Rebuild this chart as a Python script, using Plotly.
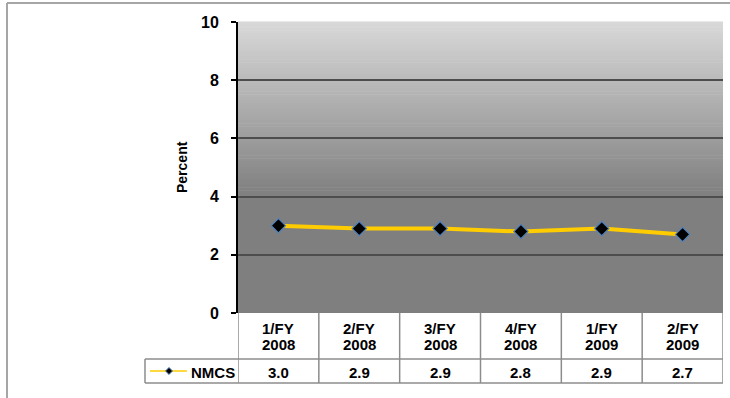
import plotly.graph_objects as go

# Quarterly NMCS rate
quarter_labels = ["1/FY", "2/FY", "3/FY", "4/FY", "1/FY", "2/FY"]
fiscal_years = ["2008", "2008", "2008", "2008", "2009", "2009"]
nmcs = [3.0, 2.9, 2.9, 2.8, 2.9, 2.7]
series_name = "NMCS"
y_ticks = [0, 2, 4, 6, 8, 10]

W, H = 730, 398
L, R, T, B = 238, 7, 22, 85
PW, PH = W - L - R, H - T - B
FONT = "Liberation Sans, Arial, sans-serif"


def py(pix):
    """pixel row -> paper y"""
    return (H - B - pix) / PH


def px(pix):
    """pixel column -> paper x"""
    return (pix - L) / PW


categories = [q + " " + y for q, y in zip(quarter_labels, fiscal_years)]
x_idx = list(range(len(categories)))

fig = go.Figure()
fig.add_trace(go.Scatter(
    x=x_idx, y=nmcs, mode="lines+markers", name=series_name,
    line=dict(color="#ffcc00", width=4),
    marker=dict(symbol="diamond", size=11, color="black",
                line=dict(color="#4f81bd", width=1.2)),
    showlegend=False, hoverinfo="skip",
))

shapes = []

# vertical gradient background of the plot area
n_steps = 60
top_c, bot_c = (217, 217, 217), (127, 127, 127)
grad_end = 0.40
for k in range(n_steps):
    y0 = 1 - (1 - grad_end) * k / n_steps
    y1 = 1 - (1 - grad_end) * (k + 1) / n_steps
    t = (k + 0.5) / n_steps
    c = tuple(round(a + (b - a) * t) for a, b in zip(top_c, bot_c))
    shapes.append(dict(type="rect", xref="x domain", yref="y domain",
                       x0=0, x1=1, y0=y1, y1=y0 + 0.002, line_width=0,
                       fillcolor="rgb(%d,%d,%d)" % c, layer="below"))
shapes.append(dict(type="rect", xref="x domain", yref="y domain",
                   x0=0, x1=1, y0=0, y1=grad_end + 0.002, line_width=0,
                   fillcolor="rgb(127,127,127)", layer="below"))

# data table below the chart
grid_c = "#8c8c8c"
row1_bot, row2_bot = 359, 383
for i in range(len(categories) + 1):
    shapes.append(dict(type="line", xref="x", yref="paper",
                       x0=i - 0.5, x1=i - 0.5, y0=py(313), y1=py(row2_bot),
                       line=dict(color=grid_c, width=1.5)))
for yy in (row1_bot, row2_bot):
    shapes.append(dict(type="line", xref="paper", yref="paper",
                       x0=px(145), x1=1, y0=py(yy), y1=py(yy),
                       line=dict(color=grid_c, width=1.5)))
shapes.append(dict(type="line", xref="paper", yref="paper",
                   x0=px(145), x1=px(145), y0=py(row1_bot), y1=py(row2_bot),
                   line=dict(color=grid_c, width=1.5)))

# legend key inside the table
cy = 371
shapes.append(dict(type="line", xref="paper", yref="paper",
                   x0=px(150), x1=px(187), y0=py(cy), y1=py(cy),
                   line=dict(color="#ffcc00", width=1.5)))
cx, d = 169, 3.5
shapes.append(dict(type="path", xref="paper", yref="paper",
                   path="M %f %f L %f %f L %f %f L %f %f Z" % (
                       px(cx), py(cy - d), px(cx + d), py(cy),
                       px(cx), py(cy + d), px(cx - d), py(cy)),
                   fillcolor="black", line=dict(color="#4f81bd", width=1)))

# outer chart border
shapes.append(dict(type="line", xref="paper", yref="paper",
                   x0=px(7), x1=px(730), y0=py(3), y1=py(3),
                   line=dict(color="#a6a6a6", width=2)))
shapes.append(dict(type="line", xref="paper", yref="paper",
                   x0=px(7), x1=px(7), y0=py(3), y1=py(398),
                   line=dict(color="#a6a6a6", width=2)))

tfont = dict(family=FONT, size=15, color="black")
annotations = []
for i in x_idx:
    for txt, yy in ((quarter_labels[i], 328.5), (fiscal_years[i], 344.5), ("%.1f" % nmcs[i], 372)):
        annotations.append(dict(x=i, y=py(yy), xref="x", yref="paper", text="<b>%s</b>" % txt,
                                xanchor="center", yanchor="middle", showarrow=False, font=tfont))
annotations.append(dict(x=px(189), y=py(372), xref="paper", yref="paper", xanchor="left",
                        yanchor="middle", text="<b>%s</b>" % series_name, showarrow=False,
                        font=tfont))
annotations.append(dict(x=px(182), y=py(167), xref="paper", yref="paper", textangle=-90,
                        xanchor="center", yanchor="middle",
                        text="<b>Percent</b>", showarrow=False,
                        font=dict(family=FONT, size=14, color="black")))

fig.update_layout(
    width=W, height=H,
    margin=dict(l=L, r=R, t=T, b=B, pad=0),
    paper_bgcolor="white", plot_bgcolor="rgba(0,0,0,0)",
    shapes=shapes, annotations=annotations,
    xaxis=dict(range=[-0.5, len(categories) - 0.5], showticklabels=False, showgrid=False,
               zeroline=False, showline=False, ticks="", fixedrange=True),
    yaxis=dict(range=[0, 10], tickvals=y_ticks, ticktext=["<b>%d</b>" % v for v in y_ticks],
               tickfont=dict(family=FONT, size=16, color="black"),
               showgrid=True, gridcolor="#4d4d4d", gridwidth=2, zeroline=False,
               showline=True, linecolor="black", linewidth=2,
               ticks="outside", ticklen=5, tickcolor="black", tickwidth=1.5,
               ticklabelstandoff=9, fixedrange=True),
)

fig.write_html("out.html")
